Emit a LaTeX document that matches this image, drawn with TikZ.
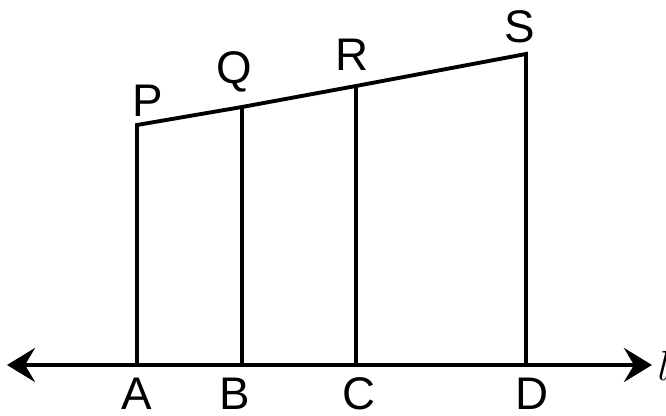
\documentclass[tikz,border=0pt]{standalone}
\usepackage{fontspec}
\setmainfont{Liberation Sans}
\usetikzlibrary{arrows.meta}

\tikzset{
  pt/.style={font=\fontsize{13}{15}\selectfont, inner sep=0pt},
  seg/.style={line width=1.1pt}
}

\begin{document}
\begin{tikzpicture}[x=0.01cm, y=-0.01cm]
  \useasboundingbox (0,0) rectangle (666,416);

  % points on the line l
  \coordinate (A) at (137,365);
  \coordinate (B) at (242,365);
  \coordinate (C) at (356,365);
  \coordinate (D) at (526,365);
  \coordinate (lw) at (7,365);
  \coordinate (le) at (652,365);

  % points on the top line
  \coordinate (P) at (137,125);
  \coordinate (Q) at (242,107);
  \coordinate (R) at (356,86);
  \coordinate (S) at (526,54);

  % the line l with arrows at both ends
  \draw[seg, {Stealth[length=2.8mm, width=3.4mm, inset=1mm]}-{Stealth[length=2.8mm, width=3.4mm, inset=1mm]}] (lw) -- (le);
  \node[pt, anchor=west] (l) at (657,366) {$l$};

  % verticals and the slanted top
  \draw[seg] (A) -- (P) -- (Q) -- (R) -- (S) -- (D);
  \draw[seg] (B) -- (Q);
  \draw[seg] (C) -- (R);

  % labels
  \node[pt] (lP) at (148,101) {P};
  \node[pt] (lQ) at (234,72) {Q};
  \node[pt] (lR) at (352,55) {R};
  \node[pt] (lS) at (520,27) {S};
  \node[pt] (lA) at (137,394) {A};
  \node[pt] (lB) at (235,394) {B};
  \node[pt] (lC) at (359,394) {C};
  \node[pt] (lD) at (532,394) {D};
\end{tikzpicture}
\end{document}
